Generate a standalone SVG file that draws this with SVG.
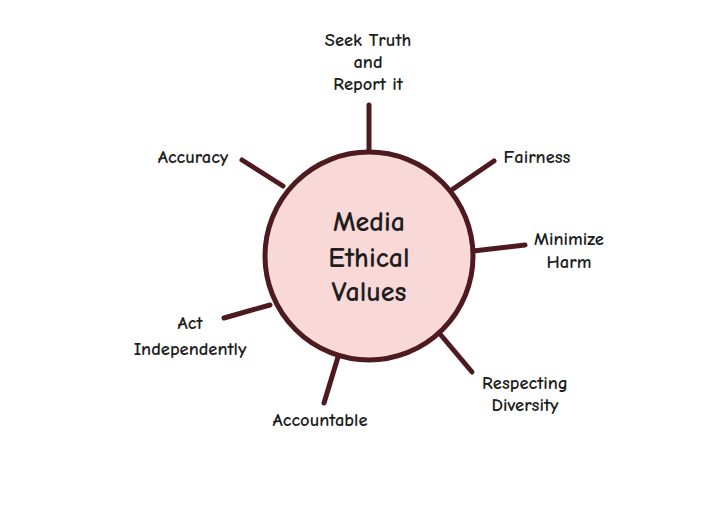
<svg xmlns="http://www.w3.org/2000/svg" width="720" height="510" viewBox="0 0 720 510">
<style>
.spoke{stroke:#4d1a20;stroke-width:5;stroke-linecap:round;fill:none}
.lbl{font-family:"Comic Neue","Open Sans","DejaVu Sans",sans-serif;font-size:18.5px;font-weight:bold;fill:#1e1e1e;text-anchor:middle}
.ctr{font-family:"Comic Neue","Open Sans","DejaVu Sans",sans-serif;font-size:28px;font-weight:bold;fill:#1e1e1e;text-anchor:middle}
</style>
<rect width="720" height="510" fill="#ffffff"/>
<g id="connectors">
<line class="spoke" x1="369" y1="152" x2="369" y2="105"/>
<line class="spoke" x1="453" y1="189" x2="494" y2="161"/>
<line class="spoke" x1="473" y1="251" x2="525" y2="245"/>
<line class="spoke" x1="440" y1="334" x2="472" y2="372"/>
<line class="spoke" x1="338" y1="357" x2="324" y2="403"/>
<line class="spoke" x1="270" y1="305" x2="224" y2="318"/>
<line class="spoke" x1="283" y1="186" x2="242" y2="160"/>
</g>
<g id="center">
<circle cx="369" cy="256" r="104" fill="#f9d8d8" stroke="#4d1a20" stroke-width="5"/>
<text class="ctr" x="369" y="231">Media</text>
<text class="ctr" x="369" y="267">Ethical</text>
<text class="ctr" x="369" y="301">Values</text>
</g>
<g id="seek-truth">
<text class="lbl" x="368" y="46">Seek Truth</text>
<text class="lbl" x="368" y="68">and</text>
<text class="lbl" x="368" y="90">Report it</text>
</g>
<g id="accuracy"><text class="lbl" x="193" y="163">Accuracy</text></g>
<g id="fairness"><text class="lbl" x="537" y="163">Fairness</text></g>
<g id="minimize-harm">
<text class="lbl" x="569" y="245">Minimize</text>
<text class="lbl" x="569" y="268">Harm</text>
</g>
<g id="respecting-diversity">
<text class="lbl" x="525" y="389">Respecting</text>
<text class="lbl" x="525" y="411">Diversity</text>
</g>
<g id="accountable"><text class="lbl" x="320" y="426">Accountable</text></g>
<g id="act-independently">
<text class="lbl" x="190" y="329">Act</text>
<text class="lbl" x="190" y="355">Independently</text>
</g>
</svg>
